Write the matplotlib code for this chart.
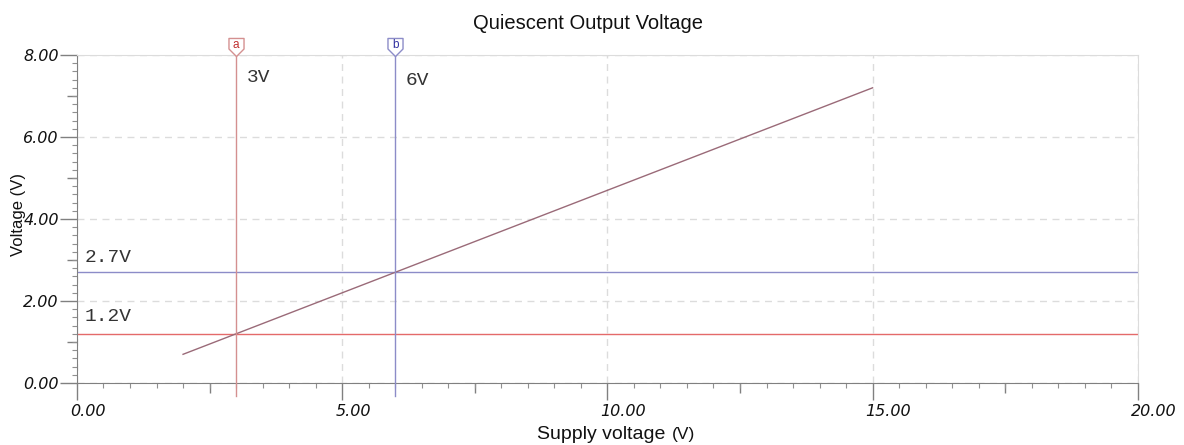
import numpy as np
import matplotlib
matplotlib.use("Agg")
import matplotlib.pyplot as plt
from matplotlib.path import Path
from matplotlib.transforms import blended_transform_factory, ScaledTranslation
from matplotlib.ticker import MultipleLocator

# Data
supply_v = [2.0, 15.0]
output_v = [0.7, 7.2]
cursor_x = {"a": 3.0, "b": 6.0}
cursor_y = {"a": 1.2, "b": 2.7}
cursor_xlabels = {"a": "3V", "b": "6V"}
cursor_ylabels = {"a": "1.2V", "b": "2.7V"}
xticks = [0, 5, 10, 15, 20]
yticks = [0, 2, 4, 6, 8]
xticklabels = ["0.00", "5.00", "10.00", "15.00", "20.00"]
yticklabels = ["0.00", "2.00", "4.00", "6.00", "8.00"]
title = "Quiescent Output Voltage"
xlabel = "Supply voltage"
xunit = "(V)"
ylabel = "Voltage (V)"

plt.rcParams['font.family'] = ['Liberation Sans', 'DejaVu Sans']

fig = plt.figure(figsize=(11.84, 4.45), dpi=100)
ax = fig.add_axes([0.065, 0.1393, 0.896, 0.7371])

red_c = '#d49090'
red_h = '#e46a6a'
blue_c = '#8c8cc8'
line_c = '#9a6a78'

ax.set_xlim(0, 20)
ax.set_ylim(0, 8)

tickfont = dict(family='DejaVu Sans', fontstyle='oblique', fontsize=11.5, color='#111111')
ax.set_xticks(xticks, xticklabels, **tickfont)
ax.set_yticks(yticks, yticklabels, **tickfont)
ax.xaxis.set_minor_locator(MultipleLocator(0.5))
ax.yaxis.set_minor_locator(MultipleLocator(0.2))
ax.grid(True, which='major', linestyle=(0, (5, 4)), color='#dcdcdc', linewidth=1)

ax.tick_params(which='major', direction='out', length=12, color='#808080', width=1)
ax.tick_params(which='minor', direction='out', length=3.5, color='#909090', width=0.8)
ax.tick_params(axis='x', which='major', pad=3)
ax.tick_params(axis='y', which='major', pad=1)
for lbl in ax.get_xticklabels():
    lbl.set_horizontalalignment('left')
    lbl.set_transform(lbl.get_transform() + ScaledTranslation(-0.07, 0, fig.dpi_scale_trans))

# medium ticks
secx = ax.secondary_xaxis('bottom')
secx.set_xticks(np.arange(2.5, 20, 5))
secx.set_xticklabels([])
secx.tick_params(length=7, color='#808080', width=1)
secx.spines['bottom'].set_visible(False)
secy = ax.secondary_yaxis('left')
secy.set_yticks(np.arange(1, 8, 2))
secy.set_yticklabels([])
secy.tick_params(length=7, color='#808080', width=1)
secy.spines['left'].set_visible(False)

for s in ['top', 'right']:
    ax.spines[s].set_color('#dcdcdc')
for s in ['left', 'bottom']:
    ax.spines[s].set_color('#808080')

# data line
ax.plot(supply_v, output_v, color=line_c, linewidth=1, zorder=3)

# cursors
cols = {"a": (red_c, red_h, '#c03030'), "b": (blue_c, blue_c, '#3030a0')}
trans = blended_transform_factory(ax.transData, ax.transAxes)
flag = Path([(-0.5, 0.6), (0.5, 0.6), (0.5, -0.1), (0.0, -0.6), (-0.5, -0.1), (-0.5, 0.6)],
            [Path.MOVETO, Path.LINETO, Path.LINETO, Path.LINETO, Path.LINETO, Path.CLOSEPOLY])
for k in ["a", "b"]:
    vc, hc, tc = cols[k]
    ax.plot([cursor_x[k], cursor_x[k]], [-0.04, 1.0], transform=trans, color=vc,
            linewidth=1, clip_on=False, zorder=4)
    ax.axhline(cursor_y[k], color=hc, linewidth=1, zorder=2)
    ax.plot([cursor_x[k]], [1.025], transform=trans, marker=flag, markersize=13,
            markerfacecolor='white', markeredgecolor=vc, markeredgewidth=1, clip_on=False, zorder=5)
    ax.text(cursor_x[k], 1.03, k, transform=trans, ha='center', va='center',
            fontsize=8.5, color=tc, zorder=6)

mono = dict(family='Liberation Mono', fontsize=14, color='#333333', va='center')
ax.text(3.2, 7.44, cursor_xlabels["a"], **mono)
ax.text(6.2, 7.39, cursor_xlabels["b"], **mono)
ax.text(0.15, 3.07, cursor_ylabels["b"], **mono)
ax.text(0.15, 1.62, cursor_ylabels["a"], **mono)

fig.text(0.497, 0.9348, title, ha='center', va='baseline', fontsize=14.5, color='#111111')
fig.text(0.5665, 0.0135, xlabel + " ", ha='right', va='baseline', fontsize=14, color='#111111')
fig.text(0.5675, 0.0135, xunit, ha='left', va='baseline', fontsize=12.5, color='#111111')
fig.text(0.0156, 0.517, ylabel, ha='center', va='center', rotation=90, fontsize=12, color='#111111')

fig.savefig('out.png', dpi=100, facecolor='white')
